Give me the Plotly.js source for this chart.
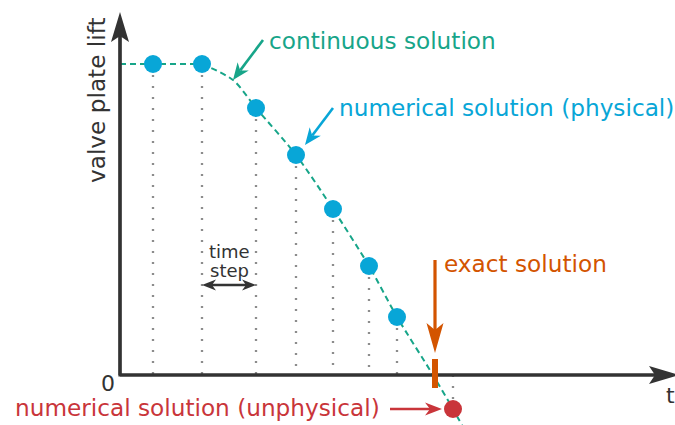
<!DOCTYPE html>
<html><head><meta charset="utf-8">
<script src="https://cdn.plot.ly/plotly-3.0.1.min.js"></script>
<style>html,body{margin:0;padding:0;background:#fff;}#chart{width:675px;height:425px;}</style>
</head><body><div id="chart"></div>
<script>
// numerical solution (physical) time levels and lift values
const stepTimes = [0.33, 0.82, 1.36, 1.76, 2.13, 2.49, 2.77];
const stepLift  = [3.11, 3.11, 2.67, 2.20, 1.66, 1.09, 0.58];
// numerical solution (unphysical) point
const badTime = [3.33];
const badLift = [-0.34];
// continuous solution: constant part, then closing part
const flatTime = [0, 0.82];
const flatLift = [3.11, 3.11];
const curveTime = [0.82, 1.13, 1.36, 1.76, 2.13, 2.49, 2.77, 3.13, 3.33, 3.43];
const curveLift = [3.11, 2.95, 2.67, 2.20, 1.66, 1.09, 0.58, 0, -0.34, -0.52];
// exact solution (zero crossing time)
const exactTime = 3.15;

const GREEN = '#17a589', BLUE = '#08a6d7', ORANGE = '#d35400', RED = '#c9353a', DARK = '#333333', GREY = '#8c8c8c';
const FONT = 'DejaVu Sans';

// dotted drop lines
const dx = [], dy = [];
stepTimes.forEach((t, i) => { dx.push(t, t, null); dy.push(stepLift[i], 0, null); });
dx.push(badTime[0], badTime[0], null); dy.push(0, badLift[0] + 0.09, null);

const traces = [
  {x: dx, y: dy, mode: 'lines', line: {color: GREY, width: 2.3, dash: '2px,9px'}, hoverinfo: 'skip'},
  {x: flatTime, y: flatLift, mode: 'lines', line: {color: GREEN, width: 2, dash: '6px,4px'}, hoverinfo: 'skip'},
  {x: curveTime, y: curveLift, mode: 'lines', line: {color: GREEN, width: 2, dash: '6px,4px', shape: 'spline', smoothing: 0.8}, hoverinfo: 'skip'},
  {x: stepTimes, y: stepLift, mode: 'markers', marker: {color: BLUE, size: 18}, hoverinfo: 'skip'},
  {x: badTime, y: badLift, mode: 'markers', marker: {color: RED, size: 18}, hoverinfo: 'skip'}
];

const shapes = [];
// arrow: line + pixel-sized stealth head anchored at tip
function head(x1, y1, ux, uy, color, L, H, N) {
  const nx = -uy, ny = ux;
  const p = (a, b) => a.toFixed(2) + ',' + b.toFixed(2);
  const path = 'M0,0 L' + p(-L*ux + H*nx, -L*uy + H*ny) + ' L' + p(-(L-N)*ux, -(L-N)*uy) +
               ' L' + p(-L*ux - H*nx, -L*uy - H*ny) + ' Z';
  shapes.push({type: 'path', xref: 'x', yref: 'y', xsizemode: 'pixel', ysizemode: 'pixel',
    xanchor: x1, yanchor: y1, path: path, fillcolor: color, line: {width: 0}});
}
function arrow(x0, y0, x1, y1, color, w, L, H, N, both) {
  const ddx = x1 - x0, ddy = y1 - y0, len = Math.hypot(ddx, ddy);
  const ux = ddx / len, uy = ddy / len;
  const s = (L - N) / 100;
  const sx = both ? x0 + ux * s : x0, sy = both ? y0 + uy * s : y0;
  shapes.push({type: 'line', xref: 'x', yref: 'y', x0: sx, y0: sy, x1: x1 - ux * s, y1: y1 - uy * s,
    line: {color: color, width: w}});
  head(x1, y1, ux, uy, color, L, H, N);
  if (both) head(x0, y0, -ux, -uy, color, L, H, N);
}

// axes
shapes.push({type: 'path', xref: 'x', yref: 'y', path: 'M0,3.4 L0,0 L5.4,0', line: {color: DARK, width: 3.2}});
arrow(0, 0, 0, 3.63, DARK, 3.2, 30, 9, 6);
arrow(0, 0, 5.59, 0, DARK, 3.2, 30, 9, 6);
// callouts
arrow(1.43, 3.35, 1.13, 2.95, GREEN, 2.6, 17, 7, 5);
arrow(2.13, 2.67, 1.85, 2.30, BLUE, 2.6, 17, 7, 5);
arrow(2.70, badLift[0], 3.22, badLift[0], RED, 2.6, 17, 6.5, 5);
arrow(exactTime, 1.15, exactTime, 0.22, ORANGE, 3.2, 30, 8.5, 7);
arrow(stepTimes[1], 0.90, stepTimes[2], 0.90, DARK, 2.4, 14, 5.5, 4, true);
// exact solution bar
shapes.push({type: 'line', xref: 'x', yref: 'y', x0: exactTime, x1: exactTime, y0: 0.16, y1: -0.13,
  line: {color: ORANGE, width: 6}});

const ann = (x, y, text, color, size, xa, extra) => Object.assign({x: x, y: y, xref: 'x', yref: 'y', text: text,
  showarrow: false, xanchor: xa, yanchor: 'middle', font: {family: FONT, size: size, color: color}}, extra || {});

const annotations = [
  ann(1.47, 3.35, 'continuous solution', GREEN, 23.2, 'left'),
  ann(2.17, 2.68, 'numerical solution (physical)', BLUE, 23.2, 'left'),
  ann(3.22, 1.12, 'exact solution', ORANGE, 23.2, 'left'),
  ann(2.62, -0.32, 'numerical solution (unphysical)', RED, 23.2, 'right'),
  ann(1.09, 1.24, 'time', DARK, 18, 'center'),
  ann(1.09, 1.05, 'step', DARK, 18, 'center'),
  ann(-0.03, -0.08, '0', DARK, 22, 'right'),
  ann(5.44, -0.20, 't', DARK, 22, 'left'),
  ann(-0.24, 2.75, 'valve plate lift', DARK, 23.2, 'center', {textangle: -90})
];

const layout = {
  width: 675, height: 425, margin: {l: 0, r: 0, t: 0, b: 0},
  paper_bgcolor: '#ffffff', plot_bgcolor: '#ffffff', showlegend: false,
  xaxis: {range: [-1.2, 5.55], visible: false, fixedrange: true},
  yaxis: {range: [-0.5, 3.75], visible: false, fixedrange: true},
  shapes: shapes, annotations: annotations, hovermode: false
};
Plotly.newPlot('chart', traces, layout, {displayModeBar: false, staticPlot: true});
</script></body></html>
